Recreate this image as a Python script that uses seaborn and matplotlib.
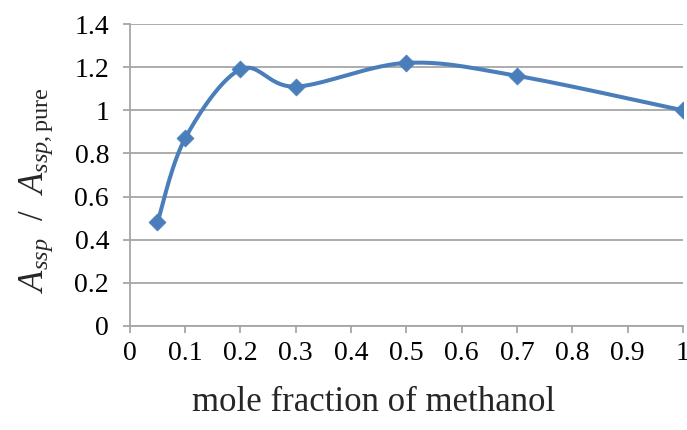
import numpy as np
import pandas as pd
import matplotlib
matplotlib.use("Agg")
import matplotlib.pyplot as plt
import seaborn as sns

# Data
mole_fraction = [0.05, 0.1, 0.2, 0.3, 0.5, 0.7, 1.0]
ratio = [0.48, 0.87, 1.19, 1.11, 1.22, 1.16, 1.00]
x_ticks = [0, 0.1, 0.2, 0.3, 0.4, 0.5, 0.6, 0.7, 0.8, 0.9, 1]
x_tick_labels = ["0", "0.1", "0.2", "0.3", "0.4", "0.5", "0.6", "0.7", "0.8", "0.9", "1"]
y_ticks = [0, 0.2, 0.4, 0.6, 0.8, 1.0, 1.2, 1.4]
y_tick_labels = ["0", "0.2", "0.4", "0.6", "0.8", "1", "1.2", "1.4"]

LINE_COLOR = "#4A7EBB"
GRID_COLOR = "#A6A6A6"
SERIF = ['Liberation Serif', 'DejaVu Serif']

sns.set_theme(style="white")
plt.rcParams['font.family'] = SERIF
plt.rcParams['mathtext.fontset'] = 'custom'
plt.rcParams['mathtext.rm'] = 'Liberation Serif'
plt.rcParams['mathtext.it'] = 'Liberation Serif:italic'


def excel_smooth(xs, ys, n=40):
    # Excel-style smoothed line: cubic Bezier segments with Catmull-Rom control points
    pts = np.column_stack([xs, ys]).astype(float)
    ext = np.vstack([pts[0], pts, pts[-1]])
    out = []
    t = np.linspace(0, 1, n)[:, None]
    for i in range(len(pts) - 1):
        p0, p1, p2, p3 = ext[i], ext[i + 1], ext[i + 2], ext[i + 3]
        c1 = p1 + (p2 - p0) / 6.0
        c2 = p2 - (p3 - p1) / 6.0
        seg = ((1 - t) ** 3) * p1 + 3 * ((1 - t) ** 2) * t * c1 + 3 * (1 - t) * t ** 2 * c2 + t ** 3 * p2
        out.append(seg if i == 0 else seg[1:])
    out = np.vstack(out)
    return pd.DataFrame({"x": out[:, 0], "y": out[:, 1]})


df = pd.DataFrame({"x": mole_fraction, "y": ratio})
curve = excel_smooth(mole_fraction, ratio)

fig = plt.figure(figsize=(6.87, 4.30), dpi=100)
ax = fig.add_axes([0.189, 0.242, 0.805, 0.702])

ax.yaxis.grid(True, color=GRID_COLOR, linewidth=1.3)
ax.set_axisbelow(True)

sns.lineplot(data=curve, x="x", y="y", sort=False, color=LINE_COLOR, linewidth=2.9, ax=ax)
sns.scatterplot(data=df, x="x", y="y", marker="D", s=75, color=LINE_COLOR,
                edgecolor=LINE_COLOR, linewidth=0.5, zorder=5, ax=ax)

ax.set_xlim(0, 1)
ax.set_ylim(0, 1.4)
ax.set_xticks(x_ticks)
ax.set_xticklabels(x_tick_labels, fontfamily=SERIF, fontsize=20)
ax.set_yticks(y_ticks)
ax.set_yticklabels(y_tick_labels, fontfamily=SERIF, fontsize=20)

for side in ["top", "right"]:
    ax.spines[side].set_visible(False)
for side in ["left", "bottom"]:
    ax.spines[side].set_color(GRID_COLOR)
    ax.spines[side].set_linewidth(1.3)

ax.tick_params(axis="both", which="major", direction="out", length=5, width=1.3,
               color=GRID_COLOR, labelcolor="black")
ax.tick_params(axis="x", pad=6)
ax.tick_params(axis="y", pad=10)
ax.xaxis.set_ticks_position("bottom")
ax.yaxis.set_ticks_position("left")

ax.set_xlabel("mole fraction of methanol", fontsize=25, fontfamily=SERIF)
ax.xaxis.set_label_coords(0.44, -0.2)
ax.set_ylabel(r"$A_{ssp}$  /  $A_{ssp,\mathrm{pure}}$", fontsize=25)
ax.yaxis.set_label_coords(-0.135, 0.45)

fig.savefig("out.png", dpi=100)
